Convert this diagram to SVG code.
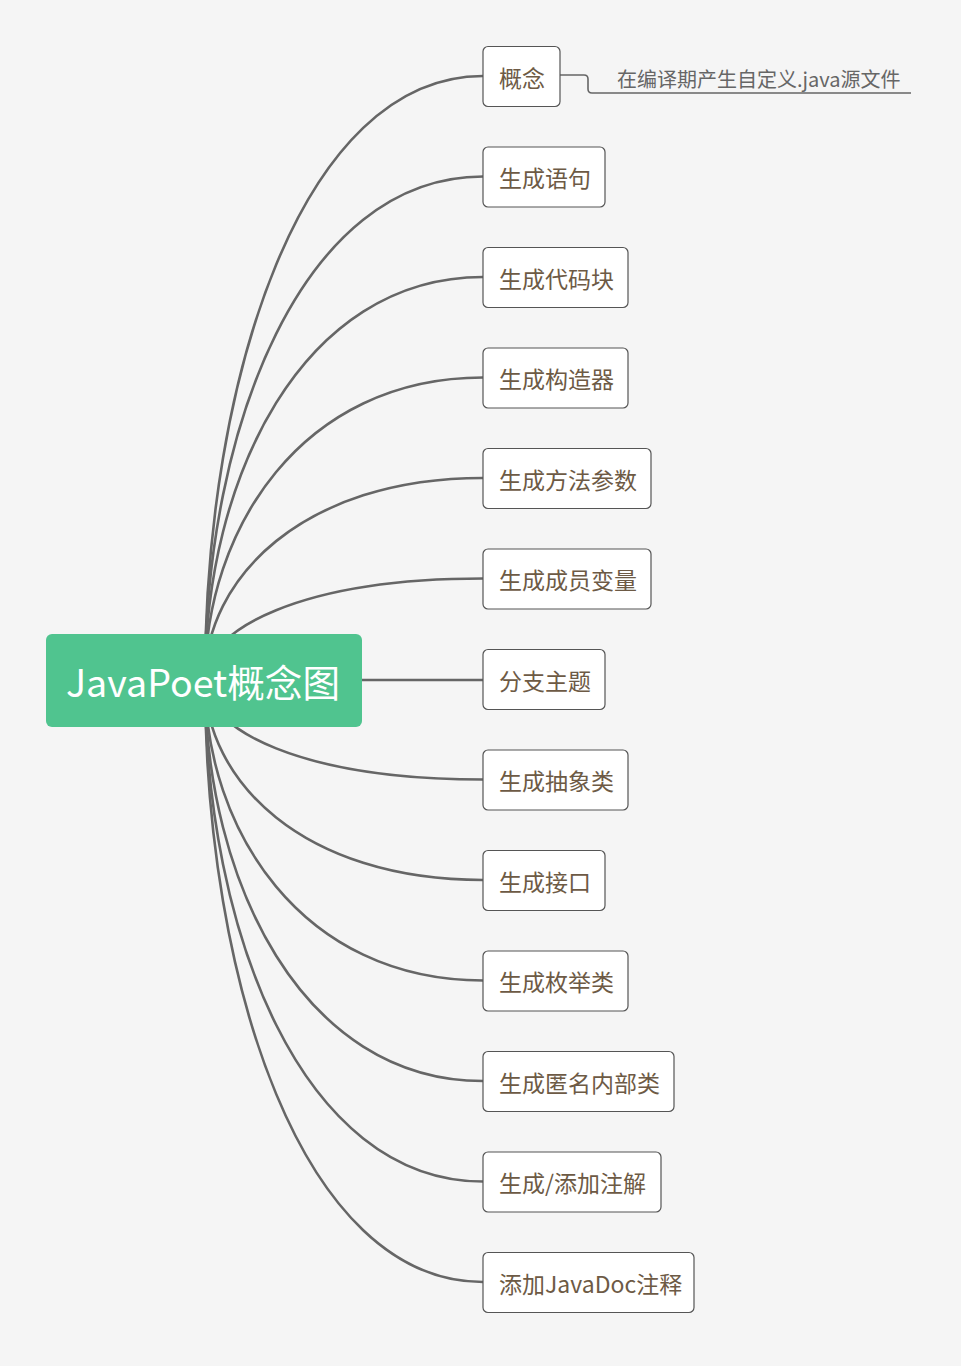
<svg xmlns="http://www.w3.org/2000/svg" width="961" height="1366" viewBox="0 0 961 1366">
<style>
.bg{fill:#f5f5f5}
.conn{fill:none;stroke:#666666;stroke-width:2.6;stroke-linecap:round}
.box{fill:#ffffff;stroke:#555555;stroke-width:1.2}
.lbl{font-family:"Noto Sans CJK SC","Noto Sans",sans-serif;font-size:23px;fill:#6d5a45}
.root{fill:#50c48f}
.rootlbl{font-family:"Noto Sans CJK SC","Noto Sans",sans-serif;font-size:37.6px;fill:#ffffff}
.note{font-family:"Noto Sans CJK SC","Noto Sans",sans-serif;font-size:20px;fill:#666666}
.noteline{fill:none;stroke:#666666;stroke-width:1.6}
</style>
<rect class="bg" x="0" y="0" width="961" height="1366"/>
<g id="connectors">
<path class="conn" d="M205,680 C205,378 302,76 483,76"/>
<path class="conn" d="M205,680 C205,428.25 302,176.5 483,176.5"/>
<path class="conn" d="M205,680 C205,478.5 302,277 483,277"/>
<path class="conn" d="M205,680 C205,528.75 302,377.5 483,377.5"/>
<path class="conn" d="M205,680 C205,579 302,478 483,478"/>
<path class="conn" d="M205,680 C205,629.25 302,578.5 483,578.5"/>
<path class="conn" d="M361,680 L483,680"/>
<path class="conn" d="M205,680 C205,729.75 302,779.5 483,779.5"/>
<path class="conn" d="M205,680 C205,780 302,880 483,880"/>
<path class="conn" d="M205,680 C205,830.25 302,980.5 483,980.5"/>
<path class="conn" d="M205,680 C205,880.5 302,1081 483,1081"/>
<path class="conn" d="M205,680 C205,930.75 302,1181.5 483,1181.5"/>
<path class="conn" d="M205,680 C205,981 302,1282 483,1282"/>
<path class="noteline" d="M560,75 L584,75 Q588,75 588,79 L588,89 Q588,93 592,93 L911,93"/>
</g>
<g id="root">
<rect class="root" x="46" y="634" width="316" height="93" rx="6"/>
<text class="rootlbl" x="203" y="697" text-anchor="middle">JavaPoet概念图</text>
</g>
<g id="n0"><rect class="box" x="483" y="46.5" width="77" height="60" rx="5"/><text class="lbl" x="499" y="86.5">概念</text></g>
<g id="note0"><text class="note" x="617" y="87">在编译期产生自定义.java源文件</text></g>
<g id="n1"><rect class="box" x="483" y="147" width="122" height="60" rx="5"/><text class="lbl" x="499" y="187">生成语句</text></g>
<g id="n2"><rect class="box" x="483" y="247.5" width="145" height="60" rx="5"/><text class="lbl" x="499" y="287.5">生成代码块</text></g>
<g id="n3"><rect class="box" x="483" y="348" width="145" height="60" rx="5"/><text class="lbl" x="499" y="388">生成构造器</text></g>
<g id="n4"><rect class="box" x="483" y="448.5" width="168" height="60" rx="5"/><text class="lbl" x="499" y="488.5">生成方法参数</text></g>
<g id="n5"><rect class="box" x="483" y="549" width="168" height="60" rx="5"/><text class="lbl" x="499" y="589">生成成员变量</text></g>
<g id="n6"><rect class="box" x="483" y="649.5" width="122" height="60" rx="5"/><text class="lbl" x="499" y="689.5">分支主题</text></g>
<g id="n7"><rect class="box" x="483" y="750" width="145" height="60" rx="5"/><text class="lbl" x="499" y="790">生成抽象类</text></g>
<g id="n8"><rect class="box" x="483" y="850.5" width="122" height="60" rx="5"/><text class="lbl" x="499" y="890.5">生成接口</text></g>
<g id="n9"><rect class="box" x="483" y="951" width="145" height="60" rx="5"/><text class="lbl" x="499" y="991">生成枚举类</text></g>
<g id="n10"><rect class="box" x="483" y="1051.5" width="191" height="60" rx="5"/><text class="lbl" x="499" y="1091.5">生成匿名内部类</text></g>
<g id="n11"><rect class="box" x="483" y="1152" width="178" height="60" rx="5"/><text class="lbl" x="499" y="1192">生成/添加注解</text></g>
<g id="n12"><rect class="box" x="483" y="1252.5" width="211" height="60" rx="5"/><text class="lbl" x="499" y="1292.5">添加JavaDoc注释</text></g>
</svg>
